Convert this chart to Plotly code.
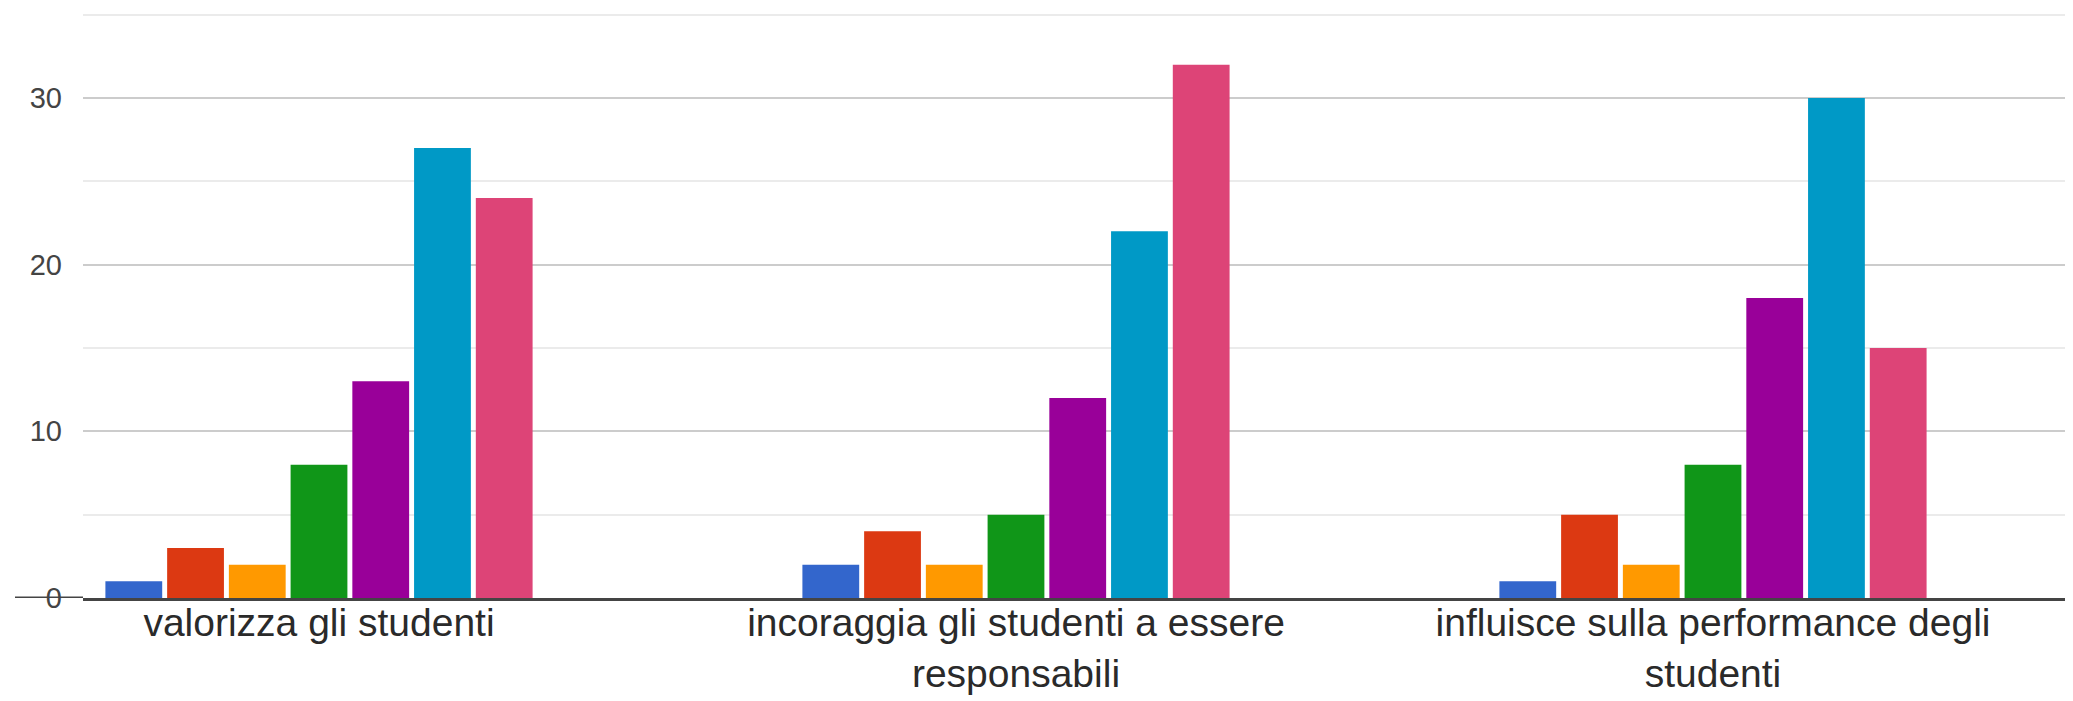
import plotly.graph_objects as go

categories = [
    "valorizza gli studenti",
    "incoraggia gli studenti a essere<br>responsabili",
    "influisce sulla performance degli<br>studenti",
]
series_names = ["1", "2", "3", "4", "5", "6", "7"]
values_1 = [1, 2, 1]
values_2 = [3, 4, 5]
values_3 = [2, 2, 2]
values_4 = [8, 5, 8]
values_5 = [13, 12, 18]
values_6 = [27, 22, 30]
values_7 = [24, 32, 15]
all_values = [values_1, values_2, values_3, values_4, values_5, values_6, values_7]
colors = ["#3366cc", "#dc3912", "#ff9900", "#109618", "#990099", "#0099c6", "#dd4477"]
y_ticks = [0, 10, 20, 30]

fig = go.Figure()
for name, vals, col in zip(series_names, all_values, colors):
    fig.add_trace(go.Bar(x=categories, y=vals, name=name,
                         marker=dict(color=col, line=dict(width=0))))

W, H = 2073, 701
ml, mr, mt, mb = 75, 0, 0, 111
plot_w = W - ml - mr

fig.update_layout(
    width=W, height=H,
    margin=dict(l=ml, r=mr, t=mt, b=mb),
    paper_bgcolor="white", plot_bgcolor="white",
    barmode="group", bargap=0.38, bargroupgap=0.08,
    showlegend=False,
    font=dict(family="Liberation Sans, Arial, sans-serif", color="#333333"),
)
fig.update_xaxes(
    type="category", range=[-0.3386, 2.528],
    showgrid=False, ticks="", showline=True, linecolor="#444444", linewidth=3,
    ticklabelstandoff=-12,
    tickfont=dict(size=39, color="#2a2a2a"),
)
fig.update_yaxes(
    range=[0, 35.4], tickvals=y_ticks, ticktext=[str(v) for v in y_ticks],
    showgrid=True, gridcolor="#cccccc", gridwidth=2,
    zeroline=False, ticks="", ticklabelstandoff=20,
    tickfont=dict(size=29, color="#444444"),
    minor=dict(tickvals=[5, 15, 25, 35], showgrid=True, gridcolor="#ebebeb", gridwidth=2),
)
# extend the baseline to the left of the plot area
fig.add_shape(type="line", xref="paper", yref="y",
              x0=(7 - ml) / plot_w, x1=0, y0=0, y1=0,
              line=dict(color="#444444", width=3))

fig.write_html("out.html")
